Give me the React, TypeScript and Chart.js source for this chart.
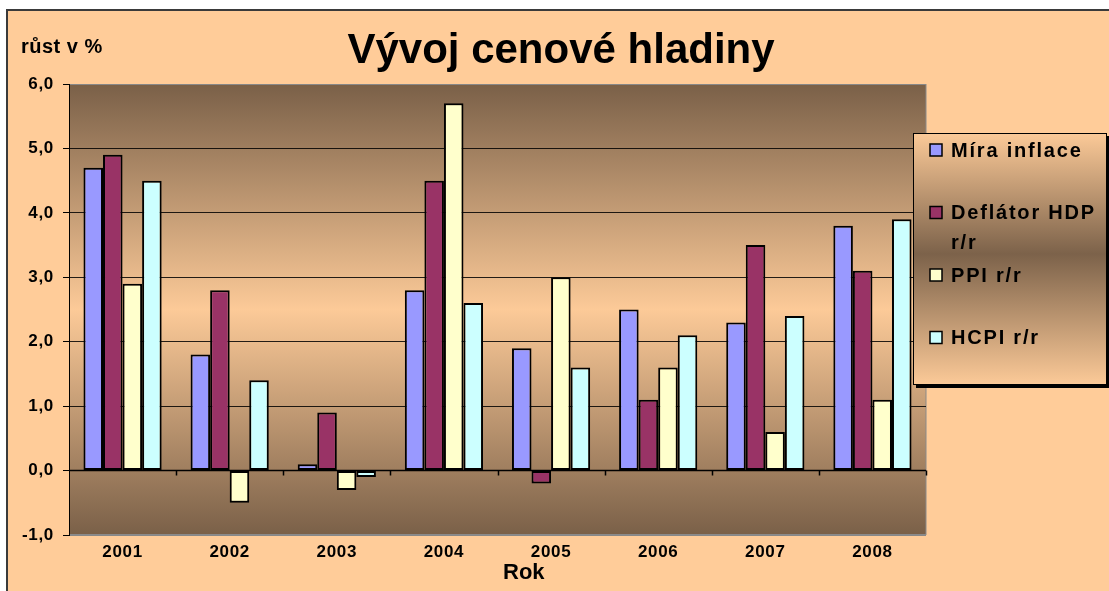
import React, { useEffect, useRef } from 'react';
import { Chart, registerables } from 'chart.js';

Chart.register(...registerables);

const chartTitle = 'Vývoj cenové hladiny';
const yAxisTitle = 'růst v %';
const xAxisTitle = 'Rok';

const categories = ['2001', '2002', '2003', '2004', '2005', '2006', '2007', '2008'];
const miraInflace = [4.7, 1.8, 0.1, 2.8, 1.9, 2.5, 2.3, 3.8];
const deflatorHDP = [4.9, 2.8, 0.9, 4.5, -0.2, 1.1, 3.5, 3.1];
const ppi = [2.9, -0.5, -0.3, 5.7, 3.0, 1.6, 0.6, 1.1];
const hcpi = [4.5, 1.4, -0.1, 2.6, 1.6, 2.1, 2.4, 3.9];
const seriesLabels = ['Míra inflace', 'Deflátor HDP r/r', 'PPI r/r', 'HCPI r/r'];
const seriesColors = ['#9999FF', '#993366', '#FFFFCC', '#CCFFFF'];
const yMin = -1;
const yMax = 6;
const yStep = 1;

const FONT = '"Liberation Sans", Arial, sans-serif';

const decorPlugin = {
  id: 'decor',
  beforeDraw(chart: any) {
    const { ctx, chartArea: a } = chart;
    ctx.save();
    ctx.letterSpacing = '0px';
    ctx.fillStyle = '#ffffff';
    ctx.fillRect(0, 0, chart.width, chart.height);
    ctx.fillStyle = '#FFCC99';
    ctx.fillRect(7, 10, chart.width, chart.height);
    ctx.strokeStyle = '#3a3a3a';
    ctx.lineWidth = 2;
    ctx.strokeRect(7, 10, chart.width + 20, chart.height + 20);

    const g = ctx.createLinearGradient(0, a.top, 0, a.bottom);
    g.addColorStop(0, '#7A6048');
    g.addColorStop(0.5, '#FCCA98');
    g.addColorStop(1, '#7A6048');
    ctx.fillStyle = g;
    ctx.fillRect(a.left, a.top, a.right - a.left, a.bottom - a.top);
    ctx.strokeStyle = '#8a8a8a';
    ctx.lineWidth = 1;
    ctx.strokeRect(a.left + 0.5, a.top + 0.5, a.right - a.left - 0.5, a.bottom - a.top - 1);

    ctx.fillStyle = '#000';
    ctx.textBaseline = 'alphabetic';
    ctx.font = `bold 42px ${FONT}`;
    ctx.textAlign = 'center';
    ctx.fillText(chartTitle, 561, 63);
    ctx.textAlign = 'left';
    ctx.font = `bold 20px ${FONT}`;
    ctx.letterSpacing = '0.5px';
    ctx.fillText(yAxisTitle, 21, 53);
    ctx.font = `bold 22px ${FONT}`;
    ctx.letterSpacing = '0px';
    ctx.fillText(xAxisTitle, 503, 579);
    ctx.restore();
    ctx.letterSpacing = '0.7px';
  },
  afterDatasetsDraw(chart: any) {
    const { ctx, chartArea: a } = chart;
    const y0 = chart.scales.y.getPixelForValue(0);
    const n = categories.length;
    const w = (a.right - a.left) / n;
    ctx.save();
    ctx.strokeStyle = '#000';
    ctx.lineWidth = 1.5;
    ctx.beginPath();
    ctx.moveTo(a.left, y0);
    ctx.lineTo(a.right, y0);
    for (let i = 1; i <= n; i++) {
      const x = Math.round(a.left + i * w) + 0.5;
      ctx.moveTo(x, y0);
      ctx.lineTo(x, y0 + 5);
    }
    ctx.stroke();
    ctx.restore();
  },
  afterDraw(chart: any) {
    const { ctx } = chart;
    ctx.save();
    const lx = 913, ly = 133, lw = 194, lh = 252;
    ctx.fillStyle = '#000';
    ctx.fillRect(lx + 3, ly + 3, lw, lh);
    const g = ctx.createLinearGradient(0, ly, 0, ly + lh);
    g.addColorStop(0, '#FCCA98');
    g.addColorStop(0.48, '#7C624A');
    g.addColorStop(1, '#FCCA98');
    ctx.fillStyle = g;
    ctx.fillRect(lx, ly, lw, lh);
    ctx.strokeStyle = '#000';
    ctx.lineWidth = 1;
    ctx.strokeRect(lx + 0.5, ly + 0.5, lw - 1, lh - 1);

    ctx.font = `bold 20px ${FONT}`;
    ctx.letterSpacing = '1.8px';
    ctx.textBaseline = 'middle';
    ctx.textAlign = 'left';
    chart.data.datasets.forEach((ds: any, i: number) => {
      const y = 150 + i * 62.5;
      ctx.fillStyle = ds.backgroundColor;
      ctx.fillRect(930, y - 6, 12, 12);
      ctx.strokeStyle = '#000';
      ctx.lineWidth = 1.5;
      ctx.strokeRect(930, y - 6, 12, 12);
      const words = String(ds.label).split(' ');
      const lines: string[] = [];
      let cur = '';
      words.forEach((wd) => {
        const test = cur ? cur + ' ' + wd : wd;
        if (cur && ctx.measureText(test).width > 150) {
          lines.push(cur);
          cur = wd;
        } else cur = test;
      });
      if (cur) lines.push(cur);
      ctx.fillStyle = '#000';
      lines.forEach((ln, j) => ctx.fillText(ln, 951, y + 1 + j * 30));
    });
    ctx.restore();
    ctx.letterSpacing = '0px';
  },
};

export default function App() {
  const ref = useRef<HTMLCanvasElement>(null);
  useEffect(() => {
    if (!ref.current) return;
    const seriesData = [miraInflace, deflatorHDP, ppi, hcpi];
    const chart = new Chart(ref.current, {
      type: 'bar',
      data: {
        labels: categories,
        datasets: seriesData.map((d, i) => ({
          label: seriesLabels[i],
          data: d,
          backgroundColor: seriesColors[i],
          borderColor: '#000',
          borderWidth: 2,
          borderSkipped: false,
          categoryPercentage: 0.73,
          barPercentage: 1.0,
        })),
      },
      options: {
        animation: false,
        responsive: true,
        maintainAspectRatio: false,
        layout: { padding: { left: 9, top: 84, right: 183, bottom: 0 } },
        plugins: {
          legend: { display: false },
          title: { display: false },
          tooltip: { enabled: false },
        },
        scales: {
          x: {
            grid: { display: false, drawTicks: false },
            border: { display: false },
            ticks: {
              color: '#000',
              font: { family: FONT, size: 17, weight: 'bold' },
              padding: 7,
              maxRotation: 0,
            },
            afterFit: (s: any) => { s.height = 56; },
          },
          y: {
            min: yMin,
            max: yMax,
            grid: {
              color: (c: any) => (c.tick && (c.tick.value === yMax || c.tick.value === yMin) ? '#888' : 'rgba(0,0,0,0.85)'),
              lineWidth: 1,
              tickLength: 6,
              drawTicks: true,
              tickColor: '#000',
            },
            border: { display: true, color: '#000', width: 1 },
            ticks: {
              stepSize: yStep,
              color: '#000',
              padding: 9,
              font: { family: FONT, size: 17, weight: 'bold' },
              callback: (v: any) => Number(v).toFixed(1).replace('.', ','),
            },
            afterFit: (s: any) => { s.width = 60; },
          },
        },
      },
      plugins: [decorPlugin],
    });
    return () => chart.destroy();
  }, []);
  return (
    <div style={{ position: 'fixed', left: 0, top: 0, width: 1109, height: 591 }}>
      <canvas ref={ref} />
    </div>
  );
}
